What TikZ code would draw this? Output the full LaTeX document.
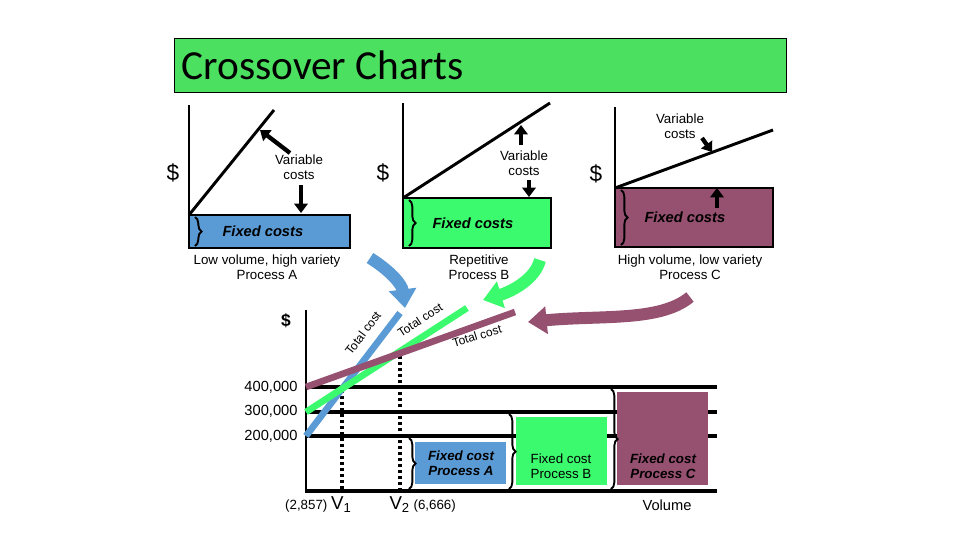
\documentclass[tikz,border=0pt]{standalone}
\usepackage{fontspec}
\setmainfont{Liberation Sans}
\newfontfamily\titlefont{Carlito}
\usetikzlibrary{arrows.meta,decorations.pathreplacing}
\definecolor{procA}{RGB}{91,155,213}
\definecolor{procB}{RGB}{60,250,110}
\definecolor{procC}{RGB}{150,80,112}
\definecolor{titlegreen}{RGB}{76,224,96}
\tikzset{every picture/.style={line width=0.75pt}}
\tikzset{
  axis/.style={line width=2.2pt},
  vc/.style={line width=2.2pt},
  brc/.style={decorate,decoration={brace,amplitude=5pt},line width=1.4pt},
  thk/.style={line width=3.2pt,-{Triangle[length=7pt,width=10pt]}},
  lbl/.style={inner sep=0.75pt,font=\fontsize{10}{11}\selectfont,align=center},
  fc/.style={inner sep=0.75pt,font=\bfseries\itshape\fontsize{11}{12}\selectfont},
  big/.style={line width=9pt,-{Triangle[length=14pt,width=20pt]}},
  tc/.style={line width=5pt},
  grid/.style={line width=2.4pt},
  dots/.style={line width=3pt,dash pattern=on 2.5pt off 2pt}
}
\begin{document}
\begin{tikzpicture}[x=0.75pt,y=0.75pt,yscale=-1,xscale=1]
\useasboundingbox (0,0) rectangle (960,540);

% Title
\draw [fill=titlegreen] (174,38) rectangle (786,92);
\node [anchor=west,inner sep=0pt,font=\titlefont\fontsize{31}{33}\selectfont] (title) at (181,65) {Crossover Charts};

% Panel A
\draw [axis,fill=procA] (189,215) rectangle (350,248);
\draw [axis] (189,105) -- (189,248);
\draw [vc] (189,215) -- (274,110);
\draw [brc] (195,217) -- (195,246);
\node [fc,anchor=west] (fcA) at (221,231) {Fixed costs};
\node [lbl] (vcA) at (299,167) {Variable\\costs};
\node [font=\fontsize{17}{18}\selectfont] (dA) at (173,173) {\$};
\draw [thk] (290,153) -- (260,130);
\draw [thk] (301,185) -- (301,213);
\node [lbl] (pA) at (267,267) {Low volume, high variety\\Process A};

% Panel B
\draw [axis,fill=procB] (403,198) rectangle (551,248);
\draw [axis] (403,103) -- (403,248);
\draw [vc] (403,198) -- (550,103);
\draw [brc] (409,200) -- (409,246);
\node [fc,anchor=west] (fcB) at (431,223) {Fixed costs};
\node [lbl] (vcB) at (524,163) {Variable\\costs};
\node [font=\fontsize{17}{18}\selectfont] (dB) at (383,173) {\$};
\draw [thk] (521,145) -- (521,125);
\draw [thk] (529,180) -- (529,197);
\node [lbl] (pB) at (479,267) {Repetitive\\Process B};

% Panel C
\draw [axis,fill=procC] (615,188) rectangle (773,247);
\draw [axis] (615,107) -- (615,247);
\draw [vc] (615,188) -- (773,130);
\draw [brc] (621,190) -- (621,245);
\node [fc,anchor=west] (fcC) at (643,217) {Fixed costs};
\node [lbl] (vcC) at (680,126) {Variable\\costs};
\node [font=\fontsize{17}{18}\selectfont] (dC) at (596,174) {\$};
\draw [thk] (702,138) -- (712,152);
\draw [thk] (717,208) -- (717,188);
\node [lbl] (pC) at (690,267) {High volume, low variety\\Process C};

% Curved arrows
\draw [big,procA] (370,258) .. controls (392,272) and (402,285) .. (405,308);
\draw [big,procB] (540,260) .. controls (535,280) and (510,292) .. (483,300);
\draw [big,procC] (690,297) .. controls (660,322) and (600,315) .. (528,322);

% Crossover chart
\foreach \y in {387,412,436,491} \draw [grid] (306,\y) -- (717,\y);
\draw [axis] (306,310) -- (306,493);
\draw [fill=procA,draw=none] (415,442) rectangle (506,484);
\draw [fill=procB,draw=none] (516,417) rectangle (607,485);
\draw [fill=procC,draw=none] (617,392) rectangle (708,485);
\draw [brc] (409,438) -- (409,489);
\draw [brc] (509,414) -- (509,489);
\draw [brc] (611,389) -- (611,489);
\draw [dots] (342,390) -- (342,491);
\draw [dots] (400,350) -- (400,491);
\draw [tc,procA] (306,436) -- (400,313);
\draw [tc,procB] (306,412) -- (467,308);
\draw [tc,procC] (306,387) -- (515,312);
\node [lbl,rotate=53,font=\fontsize{9}{10}\selectfont] (tcA) at (363,333) {Total cost};
\node [lbl,rotate=33,font=\fontsize{9}{10}\selectfont] (tcB) at (420,320) {Total cost};
\node [lbl,rotate=17,font=\fontsize{9}{10}\selectfont] (tcC) at (477,336) {Total cost};
\node [font=\bfseries\fontsize{13}{14}\selectfont] (dD) at (286,321) {\$};
\node [lbl,anchor=east,font=\fontsize{11}{12}\selectfont] (y4) at (299,387) {400,000};
\node [lbl,anchor=east,font=\fontsize{11}{12}\selectfont] (y3) at (299,411) {300,000};
\node [lbl,anchor=east,font=\fontsize{11}{12}\selectfont] (y2) at (299,436) {200,000};
\node [fc,align=center,font=\bfseries\itshape\fontsize{10}{11}\selectfont] (fA) at (461,463) {Fixed cost\\Process A};
\node [lbl,align=center] (fB) at (561,466) {Fixed cost\\Process B};
\node [fc,align=center,font=\bfseries\itshape\fontsize{10}{11}\selectfont] (fCc) at (663,466) {Fixed cost\\Process C};
\node [lbl,anchor=east] (v1) at (353,505) {(2,857) {\fontsize{14}{15}\selectfont V\textsubscript{1}}};
\node [lbl,anchor=west] (v2) at (388,505) {{\fontsize{14}{15}\selectfont V\textsubscript{2}} (6,666)};
\node [lbl,font=\fontsize{11}{12}\selectfont] (vol) at (667,505) {Volume};
\end{tikzpicture}
\end{document}
